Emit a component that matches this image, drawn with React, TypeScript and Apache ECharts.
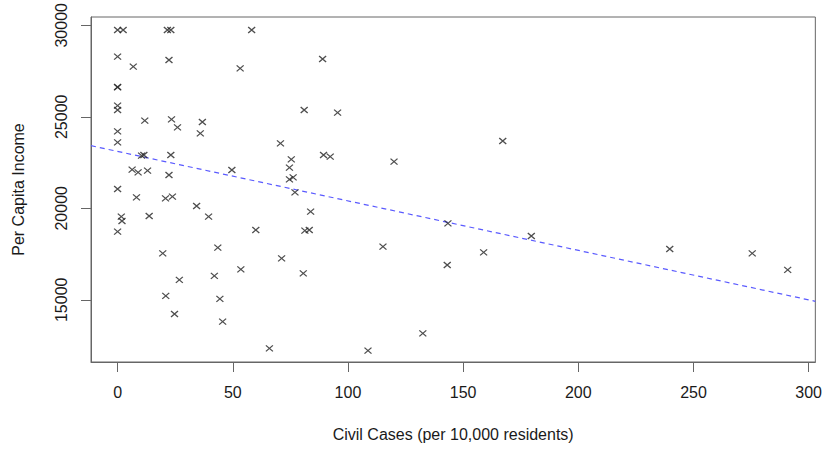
import React, { useEffect, useRef } from "react";
import * as echarts from "echarts";

const civilCases: number[] = [
  0, 2.4, 0, 0, 0, 0, 0, 0, 0, 0, 0, 1.6, 1.9,
  6.8, 21.6, 23.1, 58.2, 22.3, 53.2, 11.8, 23.4, 26.0, 36.8, 35.9, 70.7,
  10.4, 11.4, 23.1, 6.3, 8.9, 13.0, 22.3, 49.6, 75.4, 74.6, 74.6, 76.2, 77.0,
  8.2, 20.8, 23.8, 13.7, 34.3, 39.5, 60.0, 19.6, 43.5, 71.2, 26.8, 42.0, 53.5,
  20.9, 44.4, 24.7, 45.6, 65.9, 89.0, 81.0, 95.5, 89.4, 92.3, 120.0, 167.2,
  83.8, 81.3, 83.2, 80.6, 115.2, 143.4, 143.1, 158.9, 179.6, 132.5, 108.7,
  239.7, 275.5, 290.9,
];
const perCapitaIncome: number[] = [
  29743, 29743, 28284, 26612, 26640, 25607, 25372, 24208, 23607, 21055, 18722, 19542, 19307,
  27738, 29743, 29743, 29743, 28104, 27650, 24787, 24864, 24427, 24716, 24099, 23552,
  22875, 22913, 22913, 22110, 21968, 22055, 21820, 22094, 22678, 22219, 21586, 21695, 20875,
  20602, 20547, 20635, 19580, 20126, 19542, 18815, 17542, 17848, 17269, 16083, 16302, 16668,
  15209, 15045, 14225, 13805, 12351, 28158, 25372, 25224, 22913, 22822, 22547, 23678,
  19815, 18777, 18815, 16449, 17903, 19181, 16902, 17597, 18487, 13170, 12220,
  17777, 17542, 16630,
];
const xTicks: number[] = [0, 50, 100, 150, 200, 250, 300];
const yTicks: number[] = [15000, 20000, 25000, 30000];
const fitIntercept = 23109;
const fitSlope = -27.04;

const X_MIN = -11.55;
const X_MAX = 302.9;
const Y_MIN = 11601;
const Y_MAX = 30454;

export default function App() {
  const ref = useRef<HTMLDivElement>(null);
  useEffect(() => {
    if (!ref.current) return;
    const chart = echarts.init(ref.current, null, { renderer: "svg" });
    const font = "'Liberation Sans', Arial, Helvetica, sans-serif";
    const textColor = "#1a1a1a";
    const axisColor = "#666";
    const points = civilCases.map((x, i) => [x, perCapitaIncome[i]]);
    const fit = [X_MIN, X_MAX].map((x) => [x, fitIntercept + fitSlope * x]);
    chart.setOption({
      animation: false,
      backgroundColor: "#ffffff",
      textStyle: { fontFamily: font },
      grid: {
        left: 91,
        right: 7,
        top: 17,
        bottom: 87,
        show: true,
        borderColor: axisColor,
        borderWidth: 1,
        backgroundColor: "transparent",
      },
      xAxis: {
        type: "value",
        min: X_MIN,
        max: X_MAX,
        splitLine: { show: false },
        axisLine: { show: true, onZero: false, lineStyle: { color: axisColor, width: 1 } },
        axisTick: {
          show: true,
          customValues: xTicks,
          length: 10,
          lineStyle: { color: axisColor, width: 1 },
        },
        axisLabel: {
          customValues: xTicks,
          fontSize: 16,
          color: textColor,
          fontFamily: font,
          margin: 22,
          formatter: (v: number) => String(v),
        },
        name: "Civil Cases (per 10,000 residents)",
        nameLocation: "middle",
        nameGap: 64,
        nameTextStyle: { fontSize: 16, color: textColor, fontFamily: font },
      },
      yAxis: {
        type: "value",
        min: Y_MIN,
        max: Y_MAX,
        splitLine: { show: false },
        axisLine: { show: true, onZero: false, lineStyle: { color: axisColor, width: 1 } },
        axisTick: {
          show: true,
          customValues: yTicks,
          length: 10,
          lineStyle: { color: axisColor, width: 1 },
        },
        axisLabel: {
          customValues: yTicks,
          rotate: 90,
          fontSize: 16,
          color: textColor,
          fontFamily: font,
          margin: 22,
          formatter: (v: number) => String(v),
        },
        name: "Per Capita Income",
        nameLocation: "middle",
        nameGap: 65,
        nameTextStyle: { fontSize: 16, color: textColor, fontFamily: font },
      },
      series: [
        {
          type: "line",
          data: fit,
          showSymbol: false,
          symbol: "none",
          silent: true,
          lineStyle: { color: "#5a5aff", width: 1.2, type: [5, 4] },
          z: 1,
        },
        {
          type: "scatter",
          data: points,
          symbol: "path://M0,0L10,10M10,0L0,10",
          symbolSize: [7, 6],
          itemStyle: { color: "transparent", borderColor: "#222", borderWidth: 1.2 },
          z: 2,
        },
      ],
    });
    return () => chart.dispose();
  }, []);
  return (
    <div
      ref={ref}
      style={{ position: "fixed", left: 0, top: 0, width: 825, height: 449 }}
    />
  );
}
